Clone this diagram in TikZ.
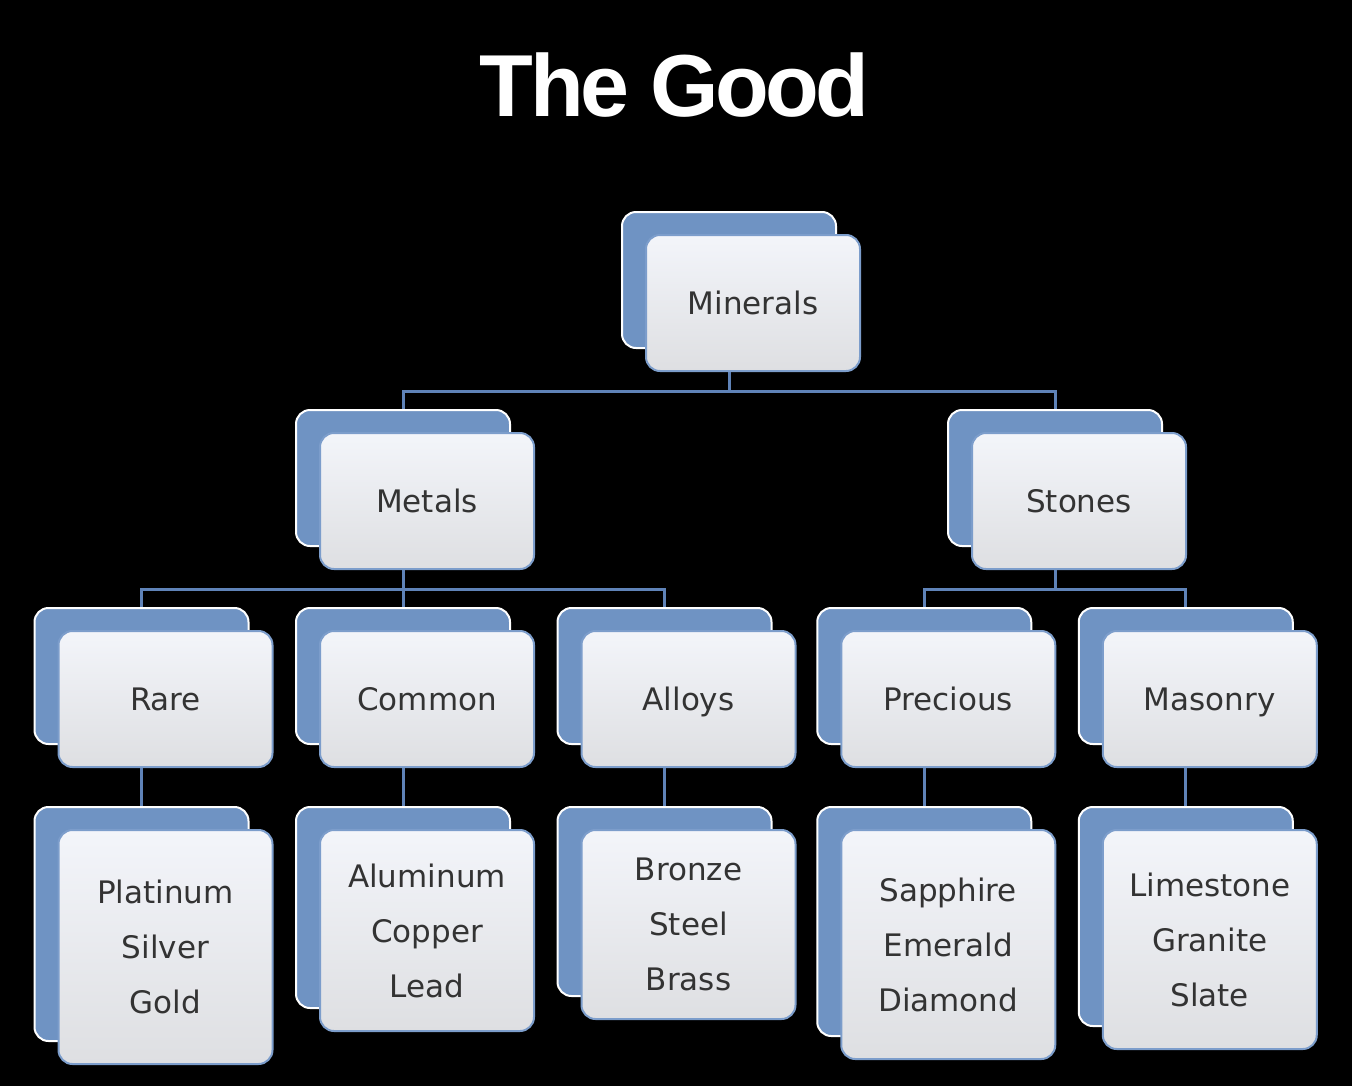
\documentclass[tikz,border=0pt]{standalone}
\usepackage{fontspec}
\usetikzlibrary{shadows}
\newfontfamily\boxfont{DejaVu Sans}
\newfontfamily\titlefont[LetterSpace=-4.0]{Liberation Sans}
\definecolor{boxblue}{HTML}{6F93C3}
\definecolor{boxedge}{HTML}{7C9DCB}
\definecolor{boxtop}{HTML}{F3F5FA}
\definecolor{boxbottom}{HTML}{DEDFE2}
\definecolor{edgeblue}{HTML}{5F83B8}
\definecolor{textgray}{HTML}{333333}
\tikzset{
  mineral/.style={rectangle, rounded corners=7pt, draw=boxedge, line width=1pt,
    top color=boxtop, middle color=boxtop, bottom color=boxbottom,
    text=textgray, font=\boxfont\fontsize{15.5pt}{27.5pt}\selectfont,
    minimum width=107pt, minimum height=68pt, inner sep=0pt, align=center,
    copy shadow={shadow xshift=-12pt, shadow yshift=11.5pt, fill=boxblue, draw=white}},
  oneline/.style={mineral, text height=11.3pt, text depth=0pt}
}
\begin{document}
\begin{tikzpicture}
    [level distance=99pt,
    level 1/.style={sibling distance=326pt},
    level 2/.style={sibling distance=130.75pt},
    level 3/.style={level distance=65pt, nodes={anchor=north}},
    edge from parent/.style={draw=edgeblue, line width=1.5pt},
    edge from parent path={([xshift=-12pt]\tikzparentnode.south) -- ++(0,-9.5pt)
      -| ([xshift=-12pt,yshift=11.5pt]\tikzchildnode.north)}]
    \fill[black] (0,0) rectangle (676pt,-543pt);
    \node (title) [anchor=base, text=white, font=\titlefont\bfseries\fontsize{44pt}{50pt}\selectfont]
      at (337.25pt,-58.5pt) {The Good};
    \node (minerals) [oneline] at (376.5pt,-151.5pt) {Minerals}
    child { node (metals) [oneline] {Metals}
      child { node (rare) [oneline] {Rare}
        child { node (rare-list) [mineral, minimum height=117pt] {Platinum\\Silver\\Gold}
        }
      }
      child { node (common) [oneline] {Common}
        child { node (common-list) [mineral, minimum height=100.5pt] {Aluminum\\Copper\\Lead}
        }
      }
      child { node (alloys) [oneline] {Alloys}
        child { node (alloys-list) [mineral, minimum height=94.5pt] {Bronze\\Steel\\Brass}
        }
      }
    }
    child { node (stones) [oneline] {Stones}
      child { node (precious) [oneline] {Precious}
        child { node (precious-list) [mineral, minimum height=114.5pt] {Sapphire\\Emerald\\Diamond}
        }
      }
      child { node (masonry) [oneline] {Masonry}
        child { node (masonry-list) [mineral, minimum height=109.5pt] {Limestone\\Granite\\Slate}
        }
      }
    } ;
\end{tikzpicture}
\end{document}
